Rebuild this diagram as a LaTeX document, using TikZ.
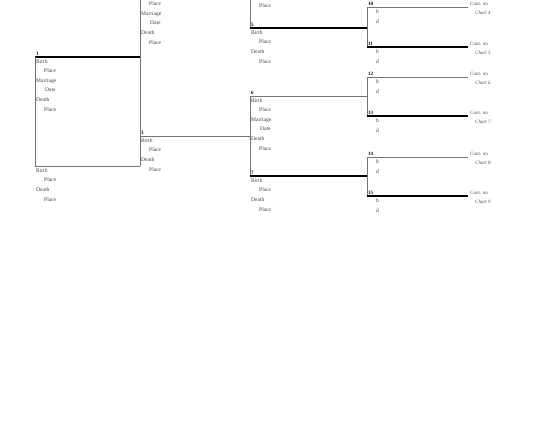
\documentclass[tikz,border=0pt]{standalone}
\usepackage{fontspec}
\setmainfont{Liberation Serif}
\tikzset{
	fld/.style={anchor=base west, inner sep=0pt, font=\fontsize{5.5}{6}\selectfont, text=black!75},
	num/.style={anchor=base west, inner sep=0pt, font=\fontsize{5}{6}\selectfont\bfseries},
	cont/.style={anchor=base west, inner sep=0pt, font=\fontsize{5}{6}\selectfont, text=black!70},
	chart/.style={cont, font=\fontsize{5}{6}\selectfont\itshape},
	thickln/.style={line width=1.2pt, black},
	thinln/.style={line width=0.7pt, black!55},
}
% person: number, start (x,y), end x
\def\person#1[#2](#3,#4)(#5){\node[num] (n#1) at (#3+1,#4-2) {#1}; \draw[#2] (#3,#4) -- (#5,#4);}
% birth, marriage, death fields
\def\bmdfields#1(#2,#3){%
	\node[fld] (#1-b) at (#2+1,#3+6) {Birth};
	\node[fld] (#1-bp) at (#2+9,#3+15.6) {Place};
	\node[fld] (#1-m) at (#2+1,#3+25.2) {Marriage};
	\node[fld] (#1-md) at (#2+10,#3+34.8) {Date};
	\node[fld] (#1-d) at (#2+1,#3+44.4) {Death};
	\node[fld] (#1-dp) at (#2+9,#3+54) {Place};}
% birth, death fields
\def\bdfields#1(#2,#3){%
	\node[fld] (#1-b) at (#2+1,#3+6) {Birth};
	\node[fld] (#1-bp) at (#2+9,#3+15.8) {Place};
	\node[fld] (#1-d) at (#2+1,#3+25.6) {Death};
	\node[fld] (#1-dp) at (#2+9,#3+35.4) {Place};}
% last column: b, d and continuation
\def\lastcol#1(#2,#3)(#4)#5{%
	\node[fld] (#1-b) at (#2+9,#3+6) {b};
	\node[fld] (#1-d) at (#2+9,#3+16) {d};
	\node[cont] (#1-c) at (#4+2,#3-2) {Cont. on};
	\node[chart] (#1-ch) at (#4+7,#3+7.5) {Chart #5};}

\begin{document}
\begin{tikzpicture}[x=1pt, y=-1pt]
		%%%%% START %%%%%
		\useasboundingbox (0,0) rectangle (540,440);
		\clip (0,0) rectangle (540,440);
		
		% generation 1
		\person1[thickln](35,57)(140)
		\bmdfields{p1}(35,57)
		\draw[thinln] (35,57) -- (35,166) -- (140,166);
		\bdfields{sp}(35,166)
		
		% generation 2
		\draw[thinln] (140,-10) -- (140,166);
		\draw[thickln] (140,-10) -- (250,-10);
		\bmdfields{p2}(140,-10)
		\person3[thinln](140,136)(250)
		\bdfields{p3}(140,136)
		
		% generation 3
		\draw[thinln] (250,-47) -- (250,28);
		\draw[thinln] (250,96) -- (250,176);
		\node[fld] (p4-dp) at (259,7) {Place};
		\person5[thickln](250,28)(367)
		\bdfields{p5}(250,28)
		\person6[thinln](250,96)(367)
		\bmdfields{p6}(250,96)
		\person7[thickln](250,176)(367)
		\bdfields{p7}(250,176)
		
		% generation 4
		\draw[thinln] (367,7) -- (367,47);
		\draw[thinln] (367,77) -- (367,116);
		\draw[thinln] (367,157) -- (367,196);
		\person{10}[thinln](367,7)(468)
		\lastcol{p10}(367,7)(468){4}
		\person{11}[thickln](367,47)(468)
		\lastcol{p11}(367,47)(468){5}
		\person{12}[thinln](367,77)(468)
		\lastcol{p12}(367,77)(468){6}
		\person{13}[thickln](367,116)(468)
		\lastcol{p13}(367,116)(468){7}
		\person{14}[thinln](367,157)(468)
		\lastcol{p14}(367,157)(468){8}
		\person{15}[thickln](367,196)(468)
		\lastcol{p15}(367,196)(468){9}
		
		%%%%% END %%%%%
	\end{tikzpicture}
\end{document}
